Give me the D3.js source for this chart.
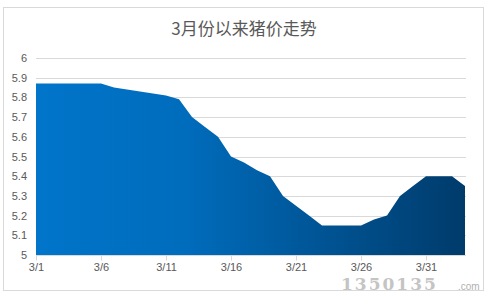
<!DOCTYPE html>
<html>
<head>
<meta charset="utf-8">
<script src="https://cdnjs.cloudflare.com/ajax/libs/d3/7.8.5/d3.min.js"></script>
<style>
  html, body { margin: 0; padding: 0; background: #fff; }
  svg { display: block; font-family: "Noto Sans CJK SC", "DejaVu Sans", sans-serif; }
</style>
</head>
<body>
<div id="chart"></div>
<script>
// 3月份以来猪价走势 — daily price, 3/1 to 4/3
const dates = [
  '3/1', '3/2', '3/3', '3/4', '3/5', '3/6', '3/7', '3/8', '3/9', '3/10',
  '3/11', '3/12', '3/13', '3/14', '3/15', '3/16', '3/17', '3/18', '3/19', '3/20',
  '3/21', '3/22', '3/23', '3/24', '3/25', '3/26', '3/27', '3/28', '3/29', '3/30',
  '3/31', '4/1', '4/2', '4/3'
];
const prices = [
  5.87, 5.87, 5.87, 5.87, 5.87, 5.87, 5.85, 5.84, 5.83, 5.82,
  5.81, 5.79, 5.70, 5.65, 5.60, 5.50, 5.47, 5.43, 5.40, 5.30,
  5.25, 5.20, 5.15, 5.15, 5.15, 5.15, 5.18, 5.20, 5.30, 5.35,
  5.40, 5.40, 5.40, 5.35
];
const xTickLabels = ['3/1', '3/6', '3/11', '3/16', '3/21', '3/26', '3/31'];
const yTicks = [5, 5.1, 5.2, 5.3, 5.4, 5.5, 5.6, 5.7, 5.8, 5.9, 6];

const W = 489, H = 295;
const plot = { left: 36, right: 465, top: 58, bottom: 255 };

const svg = d3.select('#chart').append('svg')
  .attr('width', W)
  .attr('height', H);

// chart frame
svg.append('rect')
  .attr('x', 3.5).attr('y', 7.5)
  .attr('width', 480).attr('height', 283)
  .attr('fill', '#fff')
  .attr('stroke', '#d9d9d9');

const x = d3.scalePoint()
  .domain(dates)
  .range([plot.left, plot.right]);

const y = d3.scaleLinear()
  .domain([5, 6])
  .range([plot.bottom, plot.top]);

// gradient fill
const grad = svg.append('defs').append('linearGradient')
  .attr('id', 'areaGrad')
  .attr('gradientUnits', 'userSpaceOnUse')
  .attr('x1', plot.left).attr('x2', plot.right)
  .attr('y1', 0).attr('y2', 0);
grad.append('stop').attr('offset', '0%').attr('stop-color', '#0075ca');
grad.append('stop').attr('offset', '35%').attr('stop-color', '#006cbc');
grad.append('stop').attr('offset', '100%').attr('stop-color', '#003b6b');

// gridlines
svg.append('g')
  .selectAll('line')
  .data(yTicks)
  .enter()
  .append('line')
  .attr('x1', plot.left)
  .attr('x2', plot.right + 1)
  .attr('y1', d => Math.round(y(d)) + 0.5)
  .attr('y2', d => Math.round(y(d)) + 0.5)
  .attr('stroke', '#d9d9d9');

// y labels
svg.append('g')
  .attr('transform', `translate(${plot.left - 8},0)`)
  .call(d3.axisLeft(y).tickValues(yTicks).tickSize(0).tickFormat(d3.format('~g')))
  .call(g => g.select('.domain').remove())
  .call(g => g.selectAll('text')
    .attr('fill', '#595959')
    .attr('font-size', 11)
    .attr('font-family', 'Liberation Sans, DejaVu Sans, sans-serif')
    .attr('dx', 2));

// area
const area = d3.area()
  .x(d => x(d.date))
  .y0(y(5))
  .y1(d => y(d.price));

const rows = dates.map((d, i) => ({ date: d, price: prices[i] }));

svg.append('path')
  .datum(rows)
  .attr('d', area)
  .attr('fill', 'url(#areaGrad)');

// x axis
svg.append('g')
  .attr('transform', `translate(0,${plot.bottom + 0.5})`)
  .call(d3.axisBottom(x).tickValues(xTickLabels).tickSize(5).tickPadding(3))
  .call(g => g.select('.domain')
    .attr('stroke', '#d9d9d9')
    .attr('d', `M${plot.left},0H${plot.right + 1}`))
  .call(g => g.selectAll('.tick line').attr('stroke', '#d9d9d9'))
  .call(g => g.selectAll('text')
    .attr('fill', '#595959')
    .attr('font-size', 11)
    .attr('font-family', 'Liberation Sans, DejaVu Sans, sans-serif'));

// title
svg.append('text')
  .attr('x', 244)
  .attr('y', 35)
  .attr('text-anchor', 'middle')
  .attr('fill', '#595959')
  .attr('font-size', 17)
  .text('3月份以来猪价走势');

// watermark (site logo, bottom right)
svg.append('text')
  .attr('x', 341)
  .attr('y', 290)
  .attr('fill', '#c4c4c4')
  .attr('font-size', 17)
  .attr('font-weight', 'bold')
  .attr('font-family', 'DejaVu Serif, serif')
  .attr('letter-spacing', 2)
  .text('1350135');
svg.append('text')
  .attr('x', 458)
  .attr('y', 290)
  .attr('fill', '#b0b0b0')
  .attr('font-size', 10)
  .attr('font-family', 'Liberation Sans, sans-serif')
  .text('.com');
</script>
</body>
</html>
